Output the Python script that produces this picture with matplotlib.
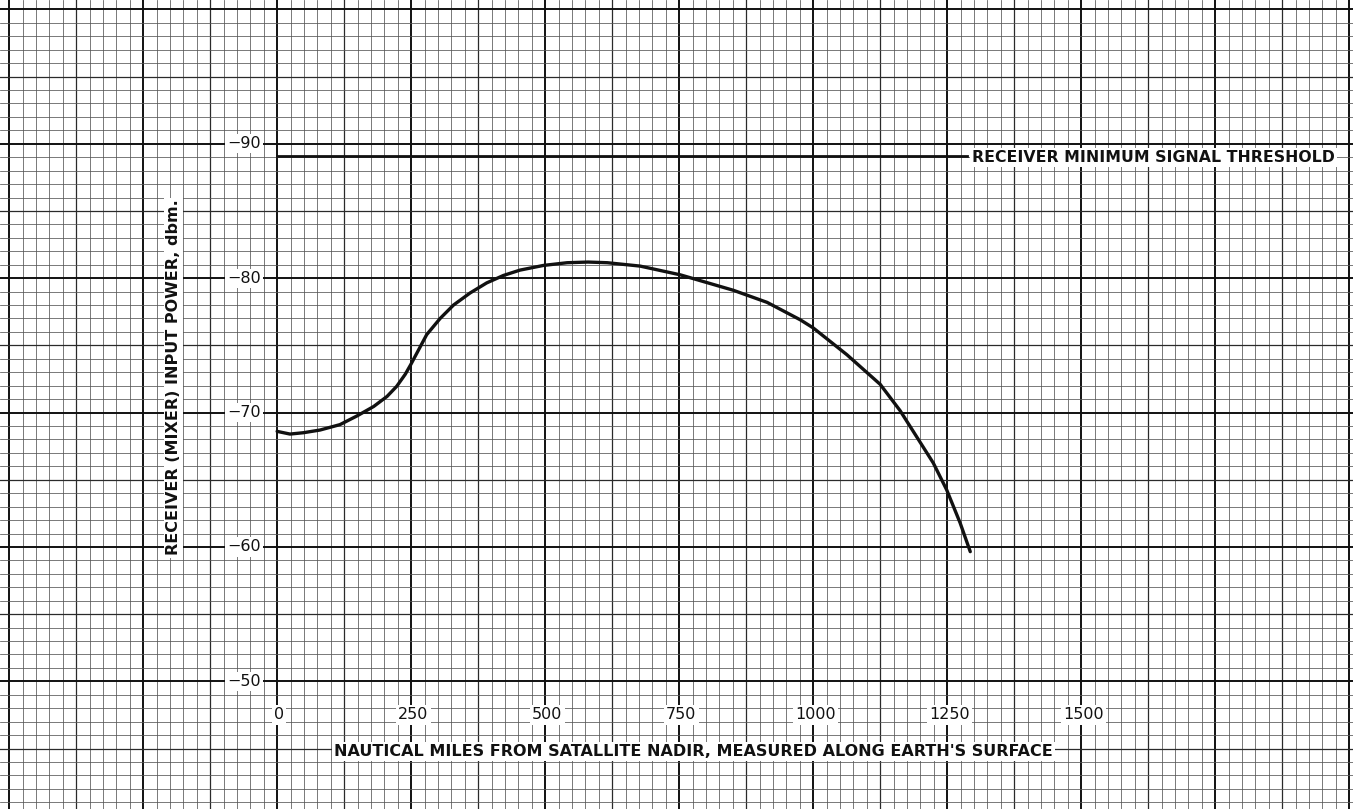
import matplotlib

matplotlib.use("Agg")
import matplotlib.pyplot as plt
import numpy as np

# curve (nautical miles, dbm)
distance_nm = [0, 24, 49, 80, 117, 149, 180, 205, 223, 239, 249, 261, 279,
               304, 329, 360, 391, 422, 453, 497, 541, 580, 616, 677, 752,
               851, 914, 976, 1000, 1063, 1125, 1162, 1193, 1224, 1249, 1274,
               1293]
power_dbm = [-68.6, -68.4, -68.5, -68.7, -69.1, -69.75, -70.45, -71.2,
             -71.95, -72.85, -73.55, -74.45, -75.8, -77.0, -78.0, -78.9,
             -79.65, -80.2, -80.6, -80.95, -81.15, -81.2, -81.15, -80.9,
             -80.25, -79.1, -78.2, -76.9, -76.3, -74.3, -72.1, -70.15, -68.2,
             -66.25, -64.25, -61.8, -59.65]

x_ticks = [0, 250, 500, 750, 1000, 1250, 1500]
y_ticks = [-90, -80, -70, -60, -50]

threshold_dbm = -89.1
threshold_end_nm = 1287

INK = "#111111"
FONT = "DejaVu Sans"

fig = plt.figure(figsize=(13.53, 8.09), dpi=100)
ax = fig.add_axes([0, 0, 1, 1])
ax.set_xlim(-517, 2007)
ax.set_ylim(-40.5, -100.7)
ax.axis("off")

# graph paper: minor, medium (every 5) and heavy (every 10) lines
for i, xv in enumerate(np.arange(-500, 2001, 25)):
    if i % 10 == 0:
        ax.axvline(xv, color=INK, lw=1.4, zorder=1)
    elif i % 5 == 0:
        ax.axvline(xv, color="#2a2a2a", lw=0.9, zorder=1)
    else:
        ax.axvline(xv, color="#555555", lw=0.55, zorder=1)
for i, yv in enumerate(np.arange(-100, -39, 1)):
    if i % 10 == 0:
        ax.axhline(yv, color=INK, lw=1.4, zorder=1)
    elif i % 5 == 0:
        ax.axhline(yv, color="#2a2a2a", lw=0.9, zorder=1)
    else:
        ax.axhline(yv, color="#555555", lw=0.55, zorder=1)

box = dict(facecolor="white", edgecolor="none", pad=1.5)

for yv in y_ticks:
    ax.text(-62, yv, f"\u2212{abs(yv)}", ha="center", va="center",
            fontsize=11.5, family=FONT, color=INK, bbox=box, zorder=3)
for xv in x_ticks:
    ax.text(xv + 4, -47.5, str(xv), ha="center", va="center",
            fontsize=11.5, family=FONT, color=INK, bbox=box, zorder=3)

ax.text(-194, -72.6, "RECEIVER (MIXER) INPUT POWER, dbm.", rotation=90,
        ha="center", va="center", fontsize=11.5, family=FONT,
        fontweight="bold", color=INK, bbox=box, zorder=3)
ax.text(776, -44.8,
        "NAUTICAL MILES FROM SATALLITE NADIR, MEASURED ALONG EARTH'S SURFACE",
        ha="center", va="center", fontsize=11.5, family=FONT,
        fontweight="bold", color=INK, bbox=box, zorder=3)

# receiver threshold
ax.plot([0, threshold_end_nm], [threshold_dbm, threshold_dbm], color=INK,
        lw=2.0, zorder=2)
ax.text(threshold_end_nm + 10, threshold_dbm + 0.1,
        "RECEIVER MINIMUM SIGNAL THRESHOLD", ha="left", va="center",
        fontsize=11.3, family=FONT, fontweight="bold", color=INK, bbox=box,
        zorder=3)

ax.plot(distance_nm, power_dbm, color=INK, lw=2.4, solid_capstyle="round",
        solid_joinstyle="round", zorder=4)

fig.savefig("out.png", dpi=100, facecolor="white")
